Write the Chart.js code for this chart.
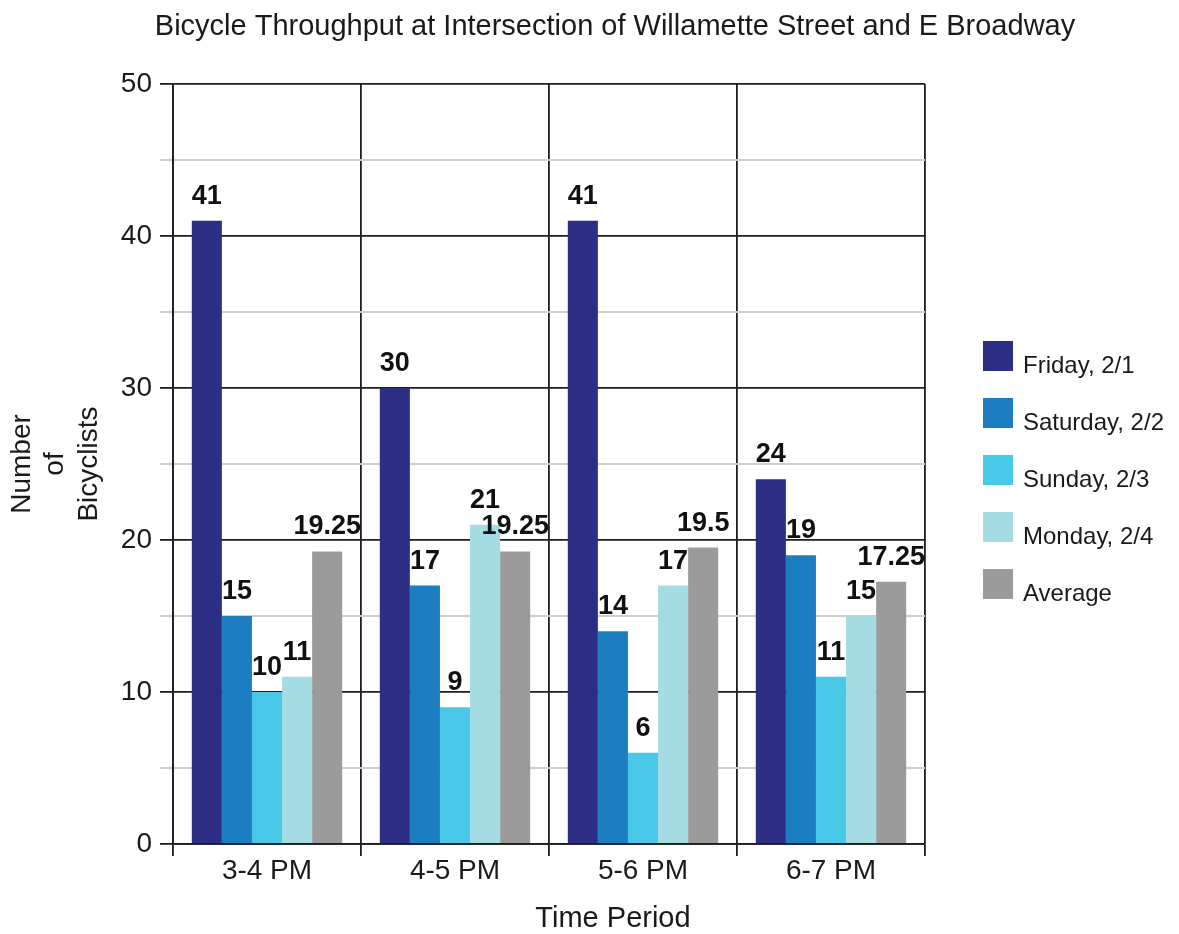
<!DOCTYPE html>
<html>
<head>
<meta charset="utf-8">
<script src="https://cdn.jsdelivr.net/npm/chart.js@4.4.1/dist/chart.umd.min.js"></script>
<style>
  html, body { margin: 0; padding: 0; background: #fff; }
  #wrap { width: 1179px; height: 934px; position: relative; }
</style>
</head>
<body>
<div id="wrap"><canvas id="bikeChart"></canvas></div>
<script>
// data
const periods = ['3-4 PM', '4-5 PM', '5-6 PM', '6-7 PM'];
const friday = [41, 30, 41, 24];
const saturday = [15, 17, 14, 19];
const sunday = [10, 9, 6, 11];
const monday = [11, 21, 17, 15];
const average = [19.25, 19.25, 19.5, 17.25];
const seriesNames = ['Friday, 2/1', 'Saturday, 2/2', 'Sunday, 2/3', 'Monday, 2/4', 'Average'];
const seriesColors = ['#2b2e83', '#1d7dc1', '#4ac8e7', '#a5dbe2', '#9b9b9b'];

const chartTitle = 'Bicycle Throughput at Intersection of Willamette Street and E Broadway';
const xTitle = 'Time Period';
const yTitle = ['Number', 'of', 'Bicyclists'];

const FONT = 'Liberation Sans, Arial, Helvetica, sans-serif';

// value labels above each bar
const barLabels = {
  id: 'barLabels',
  afterDatasetsDraw(chart) {
    const ctx = chart.ctx;
    ctx.save();
    ctx.font = 'bold 27px ' + FONT;
    ctx.fillStyle = '#111';
    ctx.textAlign = 'center';
    ctx.textBaseline = 'alphabetic';
    chart.data.datasets.forEach((ds, i) => {
      const meta = chart.getDatasetMeta(i);
      meta.data.forEach((bar, j) => {
        ctx.fillText(String(ds.data[j]), bar.x, bar.y - 17);
      });
    });
    ctx.restore();
  }
};

// title, x title and legend placed like the original
const extras = {
  id: 'extras',
  afterDraw(chart) {
    const ctx = chart.ctx;
    ctx.save();
    ctx.fillStyle = '#1a1a1a';
    ctx.textAlign = 'center';
    ctx.textBaseline = 'alphabetic';
    ctx.font = '29px ' + FONT;
    ctx.fillText(chartTitle, 615, 35);
    ctx.fillText(xTitle, 613, 927);

    ctx.textAlign = 'left';
    ctx.font = '24px ' + FONT;
    chart.data.datasets.forEach((ds, i) => {
      const top = 341 + i * 57;
      ctx.fillStyle = ds.backgroundColor;
      ctx.fillRect(983, top, 30, 30);
      ctx.fillStyle = '#1a1a1a';
      ctx.fillText(ds.label, 1023, top + 32);
    });
    ctx.restore();
  }
};

const allSeries = [friday, saturday, sunday, monday, average];

new Chart(document.getElementById('bikeChart'), {
  type: 'bar',
  data: {
    labels: periods,
    datasets: allSeries.map((vals, i) => ({
      label: seriesNames[i],
      data: vals,
      backgroundColor: seriesColors[i],
      borderWidth: 0,
      categoryPercentage: 0.8,
      barPercentage: 1.0
    }))
  },
  options: {
    responsive: true,
    maintainAspectRatio: false,
    animation: false,
    devicePixelRatio: 1,
    layout: { padding: { left: 0, right: 254, top: 84, bottom: 0 } },
    plugins: {
      legend: { display: false },
      title: { display: false },
      tooltip: { enabled: false }
    },
    scales: {
      x: {
        afterFit(scale) { scale.height = 90; },
        grid: {
          color: '#1e1e1e',
          lineWidth: 1.8,
          tickLength: 12,
          offset: true
        },
        border: { color: '#1e1e1e', width: 1.8 },
        ticks: {
          color: '#1a1a1a',
          font: { family: FONT, size: 28 },
          padding: -2
        }
      },
      y: {
        min: 0,
        max: 50,
        afterFit(scale) { scale.width = 173; },
        grid: {
          color: (c) => (c.tick && c.tick.value % 10 === 0) ? '#1e1e1e' : '#cdcdcd',
          lineWidth: (c) => (c.tick && c.tick.value % 10 === 0) ? 1.8 : 2,
          tickLength: 13
        },
        border: { color: '#1e1e1e', width: 1.8 },
        ticks: {
          stepSize: 5,
          color: '#1a1a1a',
          font: { family: FONT, size: 28 },
          padding: 8,
          callback: (v) => (v % 10 === 0 ? v : '')
        },
        title: {
          display: true,
          text: yTitle,
          color: '#1a1a1a',
          font: { family: FONT, size: 28 },
          padding: { top: 5, bottom: 0 }
        }
      }
    }
  },
  plugins: [barLabels, extras]
});
</script>
</body>
</html>
